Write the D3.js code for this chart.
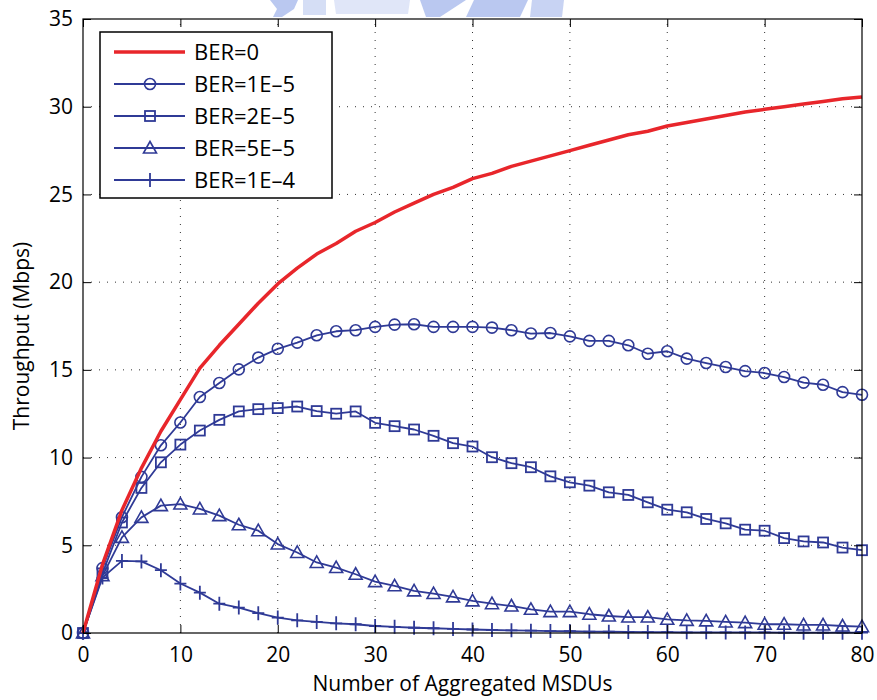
<!DOCTYPE html>
<html>
<head>
<meta charset="utf-8">
<script src="https://cdn.jsdelivr.net/npm/d3@7"></script>
<style>
  body { margin: 0; background: #fff; }
  text { font-family: "Open Sans", "Noto Sans", sans-serif; }
</style>
</head>
<body>
<div id="chart"></div>
<script>
"use strict";

// x values: number of aggregated MSDUs
const msdus = d3.range(0, 81, 2);

const ber0 = [0, 3.9, 7.0, 9.4, 11.5, 13.3, 15.1, 16.4, 17.6, 18.8, 19.9, 20.8, 21.6, 22.2, 22.9, 23.4,
  24.0, 24.5, 25.0, 25.4, 25.9, 26.2, 26.6, 26.9, 27.2, 27.5, 27.8, 28.1, 28.4, 28.6, 28.9,
  29.1, 29.3, 29.5, 29.7, 29.85, 30.0, 30.15, 30.3, 30.45, 30.55];
const ber1e5 = [0, 3.7, 6.6, 8.9, 10.7, 12.0, 13.45, 14.25, 15.03, 15.7, 16.2, 16.55, 16.97, 17.2, 17.26, 17.45,
  17.58, 17.6, 17.45, 17.45, 17.45, 17.41, 17.26, 17.07, 17.1, 16.91, 16.65, 16.65, 16.4, 15.92, 16.06,
  15.64, 15.39, 15.16, 14.93, 14.82, 14.59, 14.27, 14.15, 13.73, 13.58];
const ber2e5 = [0, 3.4, 6.3, 8.27, 9.73, 10.74, 11.54, 12.15, 12.63, 12.76, 12.82, 12.91, 12.65, 12.5, 12.63, 11.98,
  11.79, 11.6, 11.24, 10.82, 10.63, 10.02, 9.68, 9.45, 8.93, 8.59, 8.4, 8.02, 7.87, 7.45, 7.03,
  6.88, 6.5, 6.25, 5.89, 5.83, 5.41, 5.22, 5.16, 4.87, 4.72];
const ber5e5 = [0, 3.26, 5.45, 6.59, 7.26, 7.35, 7.07, 6.69, 6.17, 5.83, 5.07, 4.59, 4.02, 3.73, 3.35, 2.93,
  2.69, 2.4, 2.25, 2.06, 1.83, 1.67, 1.54, 1.35, 1.22, 1.22, 1.07, 0.97, 0.91, 0.91, 0.78,
  0.72, 0.69, 0.63, 0.59, 0.5, 0.5, 0.46, 0.46, 0.4, 0.36];
const ber1e4 = [0, 3.16, 4.11, 4.08, 3.58, 2.82, 2.3, 1.67, 1.45, 1.13, 0.88, 0.72, 0.63, 0.55, 0.5, 0.4,
  0.35, 0.3, 0.27, 0.23, 0.2, 0.17, 0.15, 0.13, 0.11, 0.1, 0.08, 0.07, 0.06, 0.05, 0.05,
  0.04, 0.04, 0.03, 0.03, 0.03, 0.02, 0.02, 0.02, 0.02, 0.02];

const seriesNames = ["BER=0", "BER=1E\u20135", "BER=2E\u20135", "BER=5E\u20135", "BER=1E\u20134"];
const seriesValues = [ber0, ber1e5, ber2e5, ber5e5, ber1e4];
const seriesMarkers = ["none", "circle", "square", "triangle", "plus"];

const xTicks = [0, 10, 20, 30, 40, 50, 60, 70, 80];
const yTicks = [0, 5, 10, 15, 20, 25, 30, 35];

const width = 877, height = 700;
const margin = {left: 83, right: 15, top: 19, bottom: 67};
const blue = "#2f3a96", red = "#e8262b";

const svg = d3.select("#chart").append("svg")
    .attr("width", width)
    .attr("height", height);

// faint logo remnant at the top edge
const wm = svg.append("g").attr("fill", "#9db2ea").attr("opacity", 0.7);
wm.append("path").attr("d", "M270,0 L298,0 L294,9 L282,17 L273,17 L277,9 Z");
wm.append("path").attr("d", "M303,0 L326,0 L326,15 L303,15 Z").attr("opacity", 0.6);
wm.append("path").attr("d", "M334,0 L410,0 L408,14 L336,14 Z").attr("opacity", 0.45);
wm.append("path").attr("d", "M420,0 L466,0 L440,17 L426,17 Z");
wm.append("path").attr("d", "M474,0 L528,0 L520,17 L466,17 Z");
wm.append("path").attr("d", "M532,0 L564,0 L562,17 L530,17 Z").attr("opacity", 0.8);

const x = d3.scaleLinear().domain([0, 80]).range([margin.left, width - margin.right]);
const y = d3.scaleLinear().domain([0, 35]).range([height - margin.bottom, margin.top]);

const plotW = x(80) - x(0), plotH = y(0) - y(35);
const g = svg.append("g");

// dotted grid
g.append("g").selectAll("line").data(xTicks.slice(1, -1)).enter().append("line")
    .attr("x1", d => x(d)).attr("x2", d => x(d))
    .attr("y1", y(0)).attr("y2", y(35))
    .attr("stroke", "#333").attr("stroke-width", 1).attr("stroke-dasharray", "1,7");
g.append("g").selectAll("line").data(yTicks.slice(1, -1)).enter().append("line")
    .attr("y1", d => y(d)).attr("y2", d => y(d))
    .attr("x1", x(0)).attr("x2", x(80))
    .attr("stroke", "#333").attr("stroke-width", 1).attr("stroke-dasharray", "1,7");

// axes with inner ticks on all four sides
svg.append("g").attr("transform", "translate(0," + y(0) + ")")
    .call(d3.axisBottom(x).tickValues(xTicks).tickSize(-8).tickPadding(14))
    .call(a => a.select(".domain").remove());
svg.append("g").attr("transform", "translate(" + x(0) + ",0)")
    .call(d3.axisLeft(y).tickValues(yTicks).tickSize(-8).tickPadding(10))
    .call(a => a.select(".domain").remove());
svg.append("g").attr("transform", "translate(0," + y(35) + ")")
    .call(d3.axisTop(x).tickValues(xTicks).tickSize(-8).tickFormat(""))
    .call(a => a.select(".domain").remove());
svg.append("g").attr("transform", "translate(" + x(80) + ",0)")
    .call(d3.axisRight(y).tickValues(yTicks).tickSize(-8).tickFormat(""))
    .call(a => a.select(".domain").remove());
svg.selectAll(".tick line").attr("stroke", "#000").attr("stroke-width", 1);
svg.selectAll(".tick text").attr("fill", "#000").style("font-size", "21px");

svg.append("rect")
    .attr("x", x(0)).attr("y", y(35))
    .attr("width", plotW).attr("height", plotH)
    .attr("fill", "none").attr("stroke", "#000").attr("stroke-width", 1.2);

// marker drawing helper
function drawMarker(sel, type) {
    if (type === "circle") {
        sel.append("circle").attr("r", 5.5)
            .attr("fill", "none").attr("stroke", blue).attr("stroke-width", 1.6);
    } else if (type === "square") {
        sel.append("rect").attr("x", -5).attr("y", -5).attr("width", 10).attr("height", 10)
            .attr("fill", "none").attr("stroke", blue).attr("stroke-width", 1.8);
    } else if (type === "triangle") {
        sel.append("path").attr("d", "M0,-6.5 L6.5,5 L-6.5,5 Z")
            .attr("fill", "none").attr("stroke", blue).attr("stroke-width", 1.6);
    } else if (type === "plus") {
        sel.append("path").attr("d", "M-6,0 L6,0 M0,-7 L0,7")
            .attr("fill", "none").attr("stroke", blue).attr("stroke-width", 1.8);
    }
}

const line = d3.line().x(d => x(d[0])).y(d => y(d[1]));

// draw low-BER series last so they sit on top, red last of all
for (let s = seriesValues.length - 1; s >= 0; s--) {
    let pts = msdus.map((m, i) => [m, seriesValues[s][i]]);
    let col = s === 0 ? red : blue;
    g.append("path")
        .datum(pts)
        .attr("d", line)
        .attr("fill", "none")
        .attr("stroke", col)
        .attr("stroke-width", s === 0 ? 3.5 : 1.8)
        .attr("stroke-linejoin", "round");
    if (seriesMarkers[s] !== "none") {
        let mk = g.append("g").selectAll("g").data(pts).enter().append("g")
            .attr("transform", d => "translate(" + x(d[0]) + "," + y(d[1]) + ")");
        drawMarker(mk, seriesMarkers[s]);
    }
}

// legend
const leg = svg.append("g");
leg.append("rect").attr("x", 100).attr("y", 32).attr("width", 232).attr("height", 166)
    .attr("fill", "#fff").attr("stroke", "#000").attr("stroke-width", 1.5);
seriesNames.forEach(function(name, i) {
    let ly = 52 + i * 32;
    leg.append("line").attr("x1", 114).attr("x2", 185).attr("y1", ly).attr("y2", ly)
        .attr("stroke", i === 0 ? red : blue).attr("stroke-width", i === 0 ? 3.5 : 1.8);
    let mk = leg.append("g").attr("transform", "translate(150," + ly + ")");
    drawMarker(mk, seriesMarkers[i]);
    leg.append("text").attr("x", 194).attr("y", ly).attr("dy", "0.36em")
        .style("font-size", "22px").text(name);
});

// axis titles
svg.append("text")
    .attr("x", (x(0) + x(80)) / 2 - 10).attr("y", 691)
    .attr("text-anchor", "middle").style("font-size", "21px")
    .text("Number of Aggregated MSDUs");
svg.append("text")
    .attr("transform", "translate(29," + (y(17.5) + 10) + ") rotate(-90)")
    .attr("text-anchor", "middle").style("font-size", "21px")
    .text("Throughput (Mbps)");
</script>
</body>
</html>
